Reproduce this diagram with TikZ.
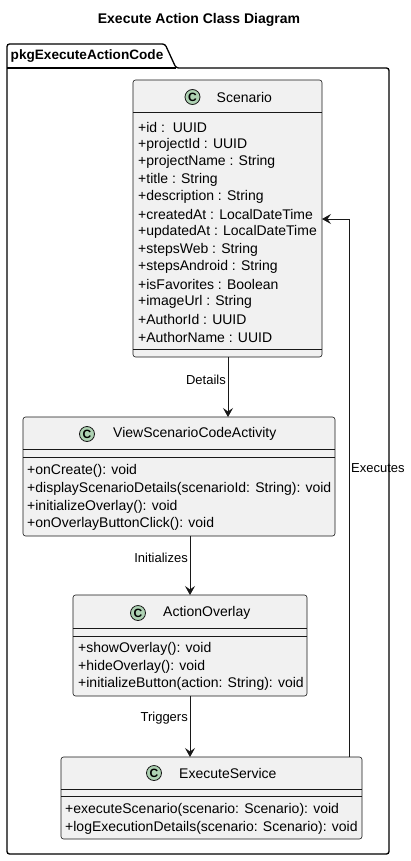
\documentclass[tikz,border=0pt]{standalone}
\usepackage{fontspec}
\setmainfont{Liberation Sans}
\usetikzlibrary{arrows.meta}
\definecolor{boxfill}{HTML}{F1F1F1}
\definecolor{boxline}{HTML}{181818}
\definecolor{spot}{HTML}{ADD1B2}
\tikzset{
  x=1pt, y=-1pt,
  classbox/.style={draw=boxline, line width=0.6pt, fill=boxfill, rounded corners=2.5pt,
    anchor=north west, inner sep=0pt, outer sep=0pt},
  sepline/.style={draw=boxline, line width=0.6pt},
  spotc/.style={circle, draw=boxline, line width=0.8pt, fill=spot, minimum size=15pt, inner sep=0pt,
    font=\fontsize{12}{12}\selectfont\bfseries},
  cname/.style={anchor=west, inner sep=0pt, font=\fontsize{14}{14}\selectfont},
  member/.style={anchor=west, inner sep=0pt, font=\fontsize{14}{14}\selectfont},
  elabel/.style={inner sep=0pt, font=\fontsize{13}{13}\selectfont},
  arr/.style={draw=boxline, line width=0.9pt, -{Stealth[length=9pt, width=10pt, inset=3.5pt]}},
}
\begin{document}
\begin{tikzpicture}
\useasboundingbox (0,0) rectangle (410,861);
\fill[white] (0,0) rectangle (410,861);

% title
\node[inner sep=0pt, font=\fontsize{14}{14}\selectfont\bfseries] (title) at (199,20) {Execute Action Class Diagram};

% package frame with its tab
\draw[line width=1.3pt, black, rounded corners=2.5pt]
  (7,68) -- (7,44) -- (165,44) -- (176,68) -- (389,68) -- (389,854) -- (7,854) -- cycle;
\draw[line width=1.3pt, black] (7,68) -- (176,68);
\node[anchor=west, inner sep=0pt, font=\fontsize{13.6}{13.6}\selectfont\bfseries] (pkg) at (10.5,56) {pkgExecuteActionCode};

% Scenario
\node[classbox, minimum width=189pt, minimum height=277pt] (sc) at (133,80) {};
\draw[sepline] (133,112) -- (322,112);
\draw[sepline] (133,349) -- (322,349);
\node[spotc] (scspot) at (192.5,97) {C};
\node[cname] (scname) at (216.5,97) {Scenario};
\foreach \t [count=\i from 0] in {{+id :\ \ UUID},{+projectId : UUID},{+projectName : String},{+title : String},
  {+description : String},{+createdAt : LocalDateTime},{+updatedAt : LocalDateTime},{+stepsWeb : String},
  {+stepsAndroid : String},{+isFavorites : Boolean},{+imageUrl : String},{+AuthorId : UUID},{+AuthorName : UUID}}
  \node[member] (scm\i) at (138,127+17.5*\i) {\t};

% ViewScenarioCodeActivity
\node[classbox, minimum width=312pt, minimum height=119pt] (vsca) at (23,417) {};
\draw[sepline] (23,449) -- (335,449);
\draw[sepline] (23,457) -- (335,457);
\node[spotc] (vsspot) at (87,434) {C};
\node[cname] (vsname) at (113,434) {ViewScenarioCodeActivity};
\foreach \t [count=\i from 0] in {{+onCreate(): void},{+displayScenarioDetails(scenarioId: String): void},
  {+initializeOverlay(): void},{+onOverlayButtonClick(): void}}
  \node[member] (vsm\i) at (27,471+17.7*\i) {\t};

% ActionOverlay
\node[classbox, minimum width=234pt, minimum height=101pt] (ao) at (73,595) {};
\draw[sepline] (73,628) -- (307,628);
\draw[sepline] (73,636) -- (307,636);
\node[spotc] (aospot) at (138,613) {C};
\node[cname] (aoname) at (163,613) {ActionOverlay};
\foreach \t [count=\i from 0] in {{+showOverlay(): void},{+hideOverlay(): void},{+initializeButton(action: String): void}}
  \node[member] (aom\i) at (78,649+17.5*\i) {\t};

% ExecuteService
\node[classbox, minimum width=301pt, minimum height=82pt] (es) at (61,757) {};
\draw[sepline] (61,789) -- (362,789);
\draw[sepline] (61,796) -- (362,796);
\node[spotc] (esspot) at (154,773) {C};
\node[cname] (esname) at (179,773) {ExecuteService};
\foreach \t [count=\i from 0] in {{+executeScenario(scenario: Scenario): void},{+logExecutionDetails(scenario: Scenario): void}}
  \node[member] (esm\i) at (65,810+17.7*\i) {\t};

% associations
\coordinate (detx) at (228,0);
\draw[arr] (sc.south -| detx) -- (vsca.north -| detx);
\node[elabel, anchor=east] (l1) at (226,380) {Details};

\draw[arr] (vsca.south -| ao.north) -- (ao.north);
\node[elabel, anchor=east] (l2) at (188,558) {Initializes};

\draw[arr] (ao.south) -- (es.north -| ao.south);
\node[elabel, anchor=east] (l3) at (188,718) {Triggers};

\coordinate (exx) at (349,0);
\coordinate (exin) at (322,219);
\draw[arr] (es.north -| exx) -- (exx |- exin) -- (exin);
\node[elabel, anchor=west] (l4) at (351,468) {Executes};
\end{tikzpicture}
\end{document}
